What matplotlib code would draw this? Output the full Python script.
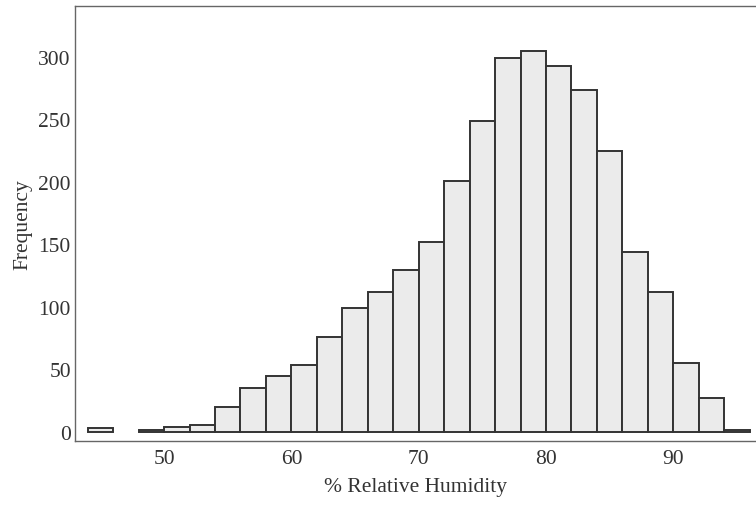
import numpy as np
from matplotlib import pyplot as plt

# histogram of relative humidity, 2 % bins from 44 to 96
bin_left = np.arange(44, 96, 2)
counts = [3, 0, 2, 4, 6, 20, 35, 45, 54, 76, 99, 112, 130, 152,
          201, 249, 299, 305, 293, 274, 225, 144, 112, 55, 27, 2]
x_ticks = [50, 60, 70, 80, 90]
y_ticks = [0, 50, 100, 150, 200, 250, 300]

plt.rcParams['font.family'] = ['Liberation Serif', 'DejaVu Serif']

fig = plt.figure(figsize=(7.56, 5.06), dpi=100)
ax = fig.add_axes([75/756, 64/506, (756-75)/756, 435/506])

counts = np.array(counts)
mask = counts > 0
ax.bar(
    bin_left[mask],
    counts[mask],
    width=2,
    align='edge',
    color='#ebebeb',
    edgecolor='#333333',
    linewidth=1.4,
)

ax.set_xlim(43.0, 96.5)
ax.set_ylim(-7.2, 340.8)
ax.set_xticks(x_ticks)
ax.set_yticks(y_ticks)
ax.tick_params(axis='both', which='major', labelsize=15.5, length=0,
               colors='#333333', pad=6)
ax.tick_params(axis='y', pad=3)

for side in ['left', 'top', 'bottom']:
    ax.spines[side].set_color('#666666')
    ax.spines[side].set_linewidth(1.0)
ax.spines['right'].set_visible(False)

ax.set_xlabel('% Relative Humidity', size=15.5, color='#333333', labelpad=6)
ax.set_ylabel('Frequency', size=15.5, color='#333333', labelpad=4)

plt.savefig('out.png', dpi=100)
